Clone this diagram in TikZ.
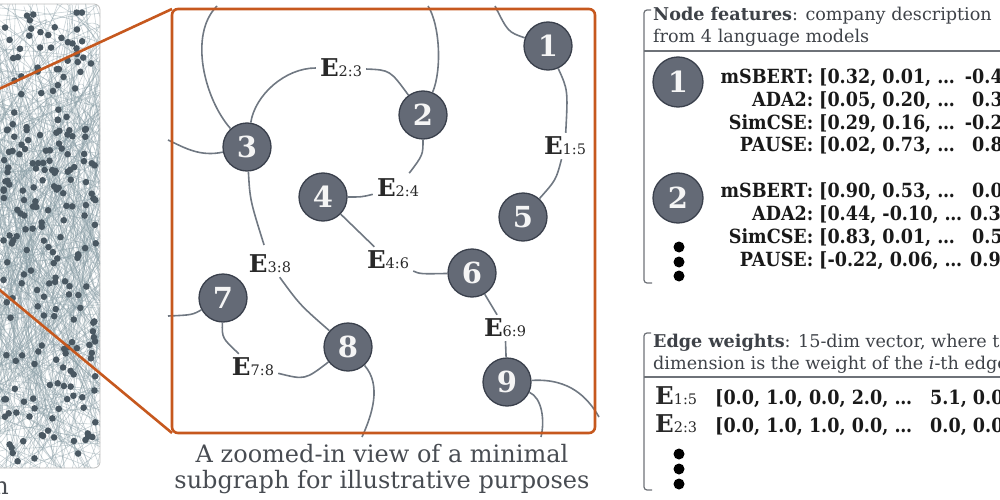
\documentclass[tikz,border=0pt]{standalone}
\usepackage{fontspec}
\setmainfont{DejaVu Serif}
\newfontfamily\valfont[FakeStretch=0.9]{DejaVu Serif}
\definecolor{orng}{RGB}{198,88,30}
\definecolor{nodefill}{RGB}{100,106,118}
\definecolor{nodeborder}{RGB}{58,64,76}
\definecolor{edgegray}{RGB}{112,120,130}
\definecolor{labeltext}{RGB}{40,40,40}
\definecolor{headtext}{RGB}{62,66,72}
\definecolor{captext}{RGB}{72,76,82}
\definecolor{netline}{RGB}{140,160,168}
\definecolor{netdot}{RGB}{74,88,98}
\definecolor{rulegray}{RGB}{110,114,120}
\definecolor{numwhite}{RGB}{245,245,245}
\newcommand\bigE{{\fontsize{24.5}{24.5}\selectfont\bfseries E}}
\newcommand\esub[1]{{\fontsize{14.5}{14.5}\selectfont #1}}
\begin{document}
\begin{tikzpicture}[x=1pt,y=-1pt,
  vert/.style={circle, fill=nodefill, draw=nodeborder, line width=1.3pt, minimum size=48pt, inner sep=0pt, text=numwhite, font=\fontsize{29}{29}\selectfont\bfseries},
  edge/.style={draw=edgegray, line width=1.6pt},
  elabel/.style={inner sep=4pt, text=labeltext},
  orangeline/.style={draw=orng, line width=2.6pt},
  netcurve/.style={draw=netline, line width=0.55pt, opacity=0.5},
  caption/.style={text=captext, font=\fontsize{24}{26}\selectfont, inner sep=0pt},
  head/.style={text=headtext, font=\fontsize{17.6}{20}\selectfont, inner sep=0pt, anchor=base west},
  vlab/.style={text=black!90, font=\valfont\fontsize{19.5}{20}\selectfont\bfseries, inner sep=0pt, anchor=base east},
  vval/.style={text=black!90, font=\valfont\fontsize{19.5}{20}\selectfont\bfseries, inner sep=0pt, anchor=base west},
  brack/.style={draw=rulegray, line width=1.2pt},
  bigdot/.style={circle, fill=black, inner sep=0pt, minimum size=11pt}
]
\useasboundingbox (0,0) rectangle (1000,500);
\begin{scope}
\clip (0,0) rectangle (1000,500);

% ---------- left network panel ----------
\begin{scope}
\clip[rounded corners=6] (-20,4) rectangle (100,468);
\fill[white] (-20,4) rectangle (100,468);
\pgfmathsetseed{4242}
\foreach \i in {1,...,420}{
  \pgfmathsetmacro\xa{rnd*220-70}
  \pgfmathsetmacro\ya{rnd*500-10}
  \pgfmathsetmacro\xb{rnd*220-70}
  \pgfmathsetmacro\yb{rnd*500-10}
  \pgfmathsetmacro\cx{rnd*320-110}
  \pgfmathsetmacro\cy{rnd*620-60}
  \draw[netcurve] (\xa,\ya) .. controls (\cx,\cy) .. (\xb,\yb);
}
\foreach \i in {1,...,230}{
  \pgfmathsetmacro\xa{rnd*94+2}
  \pgfmathsetmacro\ya{rnd*452+10}
  \fill[netdot] (\xa,\ya) circle (3.3);
}
\end{scope}
\draw[draw=black!25, line width=0.8pt, rounded corners=6] (-20,4) rectangle (100,468);
\node[caption, anchor=base east] (leftcap) at (9,494) {n};

% ---------- zoom lines ----------
\coordinate (zA) at (-40,107);
\coordinate (zB) at (-40,257);
\coordinate (bTL) at (172,9);
\coordinate (bBL) at (172,433);
\draw[orangeline] (zA) -- (bTL);
\draw[orangeline] (zB) -- (bBL);

% ---------- subgraph ----------
\node[vert] (n1) at (548,46) {1};
\node[vert] (n2) at (423,115) {2};
\node[vert] (n3) at (247,147) {3};
\node[vert] (n4) at (323,197) {4};
\node[vert] (n5) at (523,217) {5};
\node[vert] (n6) at (472,273) {6};
\node[vert] (n7) at (223,298) {7};
\node[vert] (n8) at (348,347) {8};
\node[vert] (n9) at (507,382) {9};

\node[elabel] (e23) at (341,68) {\bigE\esub{2:3}};
\node[elabel] (e15) at (565,146) {\bigE\esub{1:5}};
\node[elabel] (e24) at (398,188) {\bigE\esub{2:4}};
\node[elabel] (e38) at (270,264) {\bigE\esub{3:8}};
\node[elabel] (e46) at (388,260) {\bigE\esub{4:6}};
\node[elabel] (e69) at (505,328) {\bigE\esub{6:9}};
\node[elabel] (e78) at (253,367) {\bigE\esub{7:8}};

\coordinate (t3) at (217,6);
\coordinate (l3) at (168,140);
\coordinate (t2) at (428,6);
\coordinate (t1) at (495,6);
\coordinate (l7) at (168,316);
\coordinate (b8) at (362,437);
\coordinate (r9) at (599,417);
\coordinate (b9) at (541,437);

\draw[edge] (n3) .. controls (205,100) and (188,35) .. (t3);
\draw[edge] (n3) .. controls (200,157) and (185,148) .. (l3);
\draw[edge] (n3) .. controls (255,95) and (285,68) .. (e23);
\draw[edge] (e23) .. controls (390,70) .. (n2);
\draw[edge] (n2) .. controls (442,70) and (440,25) .. (t2);
\draw[edge, shorten >=2pt] (n2) .. controls (423,155) .. (e24);
\draw[edge] (n4) .. controls (362,197) .. (e24);
\draw[edge] (n1) .. controls (508,32) .. (t1);
\draw[edge] (n1) .. controls (568,90) .. (e15);
\draw[edge] (e15) .. controls (556,180) .. (n5);
\draw[edge] (n4) -- (e46);
\draw[edge] (e46) .. controls (420,274) .. (n6);
\draw[edge, shorten >=6pt] (n3) .. controls (250,200) .. (e38);
\draw[edge] (e38) .. controls (300,305) .. (n8);
\draw[edge] (n7) .. controls (192,315) .. (l7);
\draw[edge] (n7) .. controls (222,338) .. (e78);
\draw[edge] (e78) .. controls (305,380) .. (n8);
\draw[edge] (n8) .. controls (382,385) and (372,415) .. (b8);
\draw[edge] (n6) -- (e69);
\draw[edge] (e69) -- (n9);
\draw[edge] (n9) .. controls (570,378) and (588,398) .. (r9);
\draw[edge] (n9) .. controls (542,398) and (545,420) .. (b9);

\draw[orangeline, rounded corners=6] (bTL) rectangle (595,433);

\node[caption, anchor=base] (cap1) at (382,462) {A zoomed-in view of a minimal};
\node[caption, anchor=base] (cap2) at (382,488) {subgraph for illustrative purposes};

% ---------- node features ----------
\draw[brack, rounded corners=3] (651,10) -- (644,10) -- (644,283) -- (652,283);
\node[head] (h1) at (653,21) {\textbf{Node features}: company description};
\node[head] (h2) at (653,43) {from 4 language models};
\draw[brack] (644,51) -- (1000,51);

\node[vert, minimum size=50pt] (r1) at (678,82) {1};
\node[vert, minimum size=50pt] (r2) at (678,198) {2};

\node[vlab] (a1) at (813.5,84) {mSBERT:};
\node[vval] (b1) at (819,84) {[0.32, 0.01, …};
\node[vval] (c1) at (972,84) {\llap{-}0.4};
\node[vlab] (a2) at (813.5,106.5) {ADA2:};
\node[vval] (b2) at (819,106.5) {[0.05, 0.20, …};
\node[vval] (c2) at (972,106.5) {0.3};
\node[vlab] (a3) at (813.5,129) {SimCSE:};
\node[vval] (b3) at (819,129) {[0.29, 0.16, …};
\node[vval] (c3) at (972,129) {\llap{-}0.2};
\node[vlab] (a4) at (813.5,151.5) {PAUSE:};
\node[vval] (b4) at (819,151.5) {[0.02, 0.73, …};
\node[vval] (c4) at (972,151.5) {0.8};

\node[vlab] (a5) at (813.5,197) {mSBERT:};
\node[vval] (b5) at (819,197) {[0.90, 0.53, …};
\node[vval] (c5) at (972,197) {0.0};
\node[vlab] (a6) at (813.5,220) {ADA2:};
\node[vval] (b6) at (819,220) {[0.44, -0.10, …};
\node[vval] (c6) at (970,220) {0.3};
\node[vlab] (a7) at (813.5,243) {SimCSE:};
\node[vval] (b7) at (819,243) {[0.83, 0.01, …};
\node[vval] (c7) at (972,243) {0.5};
\node[vlab] (a8) at (813.5,266) {PAUSE:};
\node[vval] (b8t) at (819,266) {[-0.22, 0.06, …};
\node[vval] (c8) at (970,266) {0.9};

\node[bigdot] (d1) at (679,247) {};
\node[bigdot] (d2) at (679,262) {};
\node[bigdot] (d3) at (679,276) {};

% ---------- edge weights ----------
\draw[brack, rounded corners=3] (651,333) -- (644,333) -- (644,490) -- (652,490);
\node[head] (h3) at (653,347) {\textbf{Edge weights}: 15-dim vector, where the};
\node[head] (h4) at (653,369) {dimension is the weight of the \textit{i}-th edge};
\draw[brack] (644,377) -- (1000,377);

\node[inner sep=0pt, anchor=base west, text=labeltext] (w1) at (655,404) {\bigE\esub{1:5}};
\node[vval] (v1) at (715,404) {[0.0, 1.0, 0.0, 2.0, …};
\node[vval] (u1) at (930,404) {5.1, 0.0};
\node[inner sep=0pt, anchor=base west, text=labeltext] (w2) at (655,432) {\bigE\esub{2:3}};
\node[vval] (v2) at (715,432) {[0.0, 1.0, 1.0, 0.0, …};
\node[vval] (u2) at (930,432) {0.0, 0.0};

\node[bigdot] (d4) at (679,454) {};
\node[bigdot] (d5) at (679,469) {};
\node[bigdot] (d6) at (679,484) {};
\end{scope}
\end{tikzpicture}
\end{document}
